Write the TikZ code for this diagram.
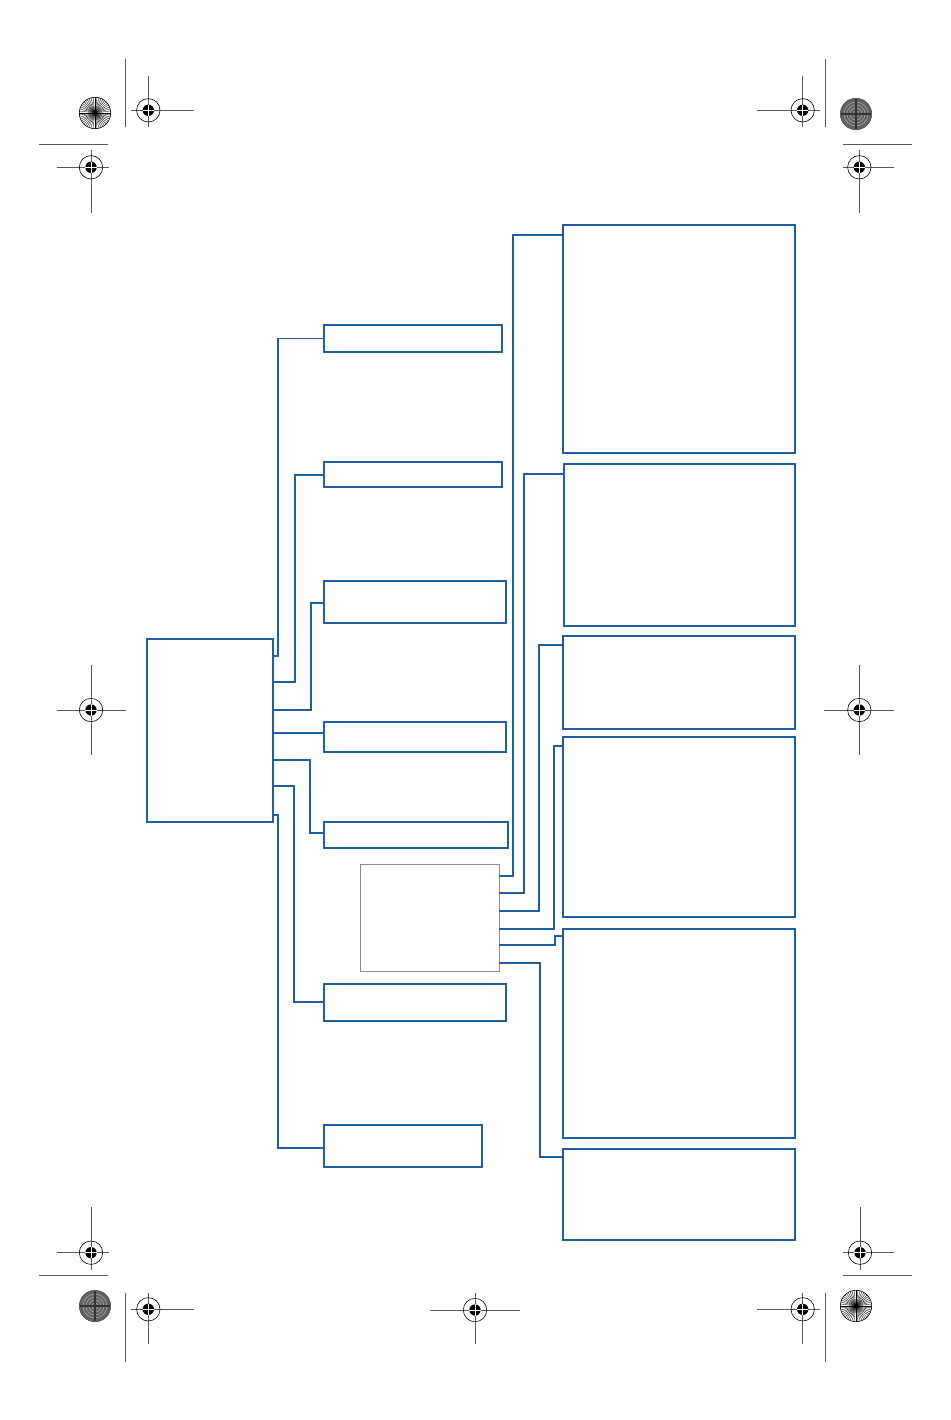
\documentclass[tikz,border=0pt]{standalone}
\usetikzlibrary{calc}
\definecolor{boxblue}{RGB}{31,94,166}
\definecolor{markgray}{RGB}{90,90,90}
\tikzset{
  box/.style={draw=boxblue,line width=1.8pt,inner sep=0pt,outer sep=0pt,rectangle},
  thinbox/.style={draw=black!45,line width=0.9pt,inner sep=0pt,outer sep=0pt,rectangle},
  conn/.style={draw=boxblue,line width=1.8pt},
  markline/.style={draw=markgray,line width=0.7pt},
  target/.pic={
    \draw[black,line width=0.6pt] (0,0) circle (11.7);
    \fill[black] (0,0) circle (5.7);
    \draw[white,line width=0.7pt] (-5.7,0) -- (5.7,0) (0,-5.7) -- (0,5.7);
  },
  starburst/.pic={
    \foreach \a in {0,7.5,...,352.5}{\draw[black,line width=0.35pt] (0,0) -- (\a:15.7);}
    \draw[black,line width=0.6pt] (0,0) circle (15.7);
  },
  darkdisc/.pic={
    \fill[black!62] (0,0) circle (15.7);
    \foreach \r in {3,6,9,12}{\draw[black!35,line width=0.6pt] (0,0) circle (\r);}
    \draw[black!80,line width=1.2pt] (-15,0) -- (15,0) (0,-15) -- (0,15);
    \draw[black!70,line width=0.6pt] (0,0) circle (15.7);
  }
}
\begin{document}
\begin{tikzpicture}[x=1pt,y=-1pt]
\useasboundingbox (0,0) rectangle (950,1420);
\fill[white] (0,0) rectangle (950,1420);

% ---------- boxes ----------
\node[box,minimum width=126,minimum height=183] (L) at (210,730.5) {};
\node[box,minimum width=178,minimum height=27] (B1) at (413,338.5) {};
\node[box,minimum width=178,minimum height=25] (B2) at (413,474.5) {};
\node[box,minimum width=182,minimum height=42] (B3) at (415,602) {};
\node[box,minimum width=182,minimum height=30] (B4) at (415,737) {};
\node[box,minimum width=184,minimum height=26] (B5) at (416,835) {};
\node[box,minimum width=182,minimum height=37] (B6) at (415,1002.5) {};
\node[box,minimum width=158,minimum height=42] (B7) at (403,1146) {};
\node[thinbox,minimum width=139,minimum height=107] (C) at (429.5,917.5) {};
\node[box,minimum width=232,minimum height=228] (R1) at (679,339) {};
\node[box,minimum width=231,minimum height=162] (R2) at (679.5,545) {};
\node[box,minimum width=232,minimum height=93] (R3) at (679,682.5) {};
\node[box,minimum width=232,minimum height=180] (R4) at (679,827) {};
\node[box,minimum width=232,minimum height=209] (R5) at (679,1033.5) {};
\node[box,minimum width=232,minimum height=91] (R6) at (679,1194.5) {};

% ---------- connectors from left box ----------
\draw[conn] (L.east |- 0,656) -- (278,656) |- (B1.west);
\draw[conn] (L.east |- 0,682) -- (295,682) |- (B2.west |- 0,475);
\draw[conn] (L.east |- 0,710) -- (311,710) |- (B3.west |- 0,603);
\draw[conn] (L.east |- 0,733) -- (B4.west |- 0,733);
\draw[conn] (L.east |- 0,760) -- (310,760) |- (B5.west |- 0,833);
\draw[conn] (L.east |- 0,786) -- (294,786) |- (B6.west |- 0,1002);
\draw[conn] (L.east |- 0,815) -- (278,815) |- (B7.west |- 0,1148);

% ---------- connectors from centre box ----------
\draw[conn] (C.east |- 0,876) -- (513,876) |- (R1.west |- 0,235);
\draw[conn] (C.east |- 0,893) -- (524,893) |- (R2.west |- 0,474);
\draw[conn] (C.east |- 0,911) -- (539,911) |- (R3.west |- 0,645);
\draw[conn] (C.east |- 0,929) -- (554,929) |- (R4.west |- 0,746);
\draw[conn] (C.east |- 0,945) -- (555,945) |- (R5.west |- 0,936);
\draw[conn] (C.east |- 0,963) -- (540,963) |- (R6.west |- 0,1157);

% ---------- registration marks: top left ----------
\pic at (95,113) {starburst};
\draw[markline] (125.7,59) -- (125.7,127.3);
\draw[markline] (131,110.3) -- (194,110.3) (148.3,76) -- (148.3,127.3);
\pic at (148.3,110.3) {target};
\draw[markline] (39.3,144.3) -- (108.3,144.3);
\draw[markline] (56.7,167.3) -- (108.7,167.3) (91,150) -- (91,213.3);
\pic at (91,167.3) {target};

% ---------- top right ----------
\draw[markline] (756.7,110.3) -- (820,110.3) (802.7,76) -- (802.7,127.3);
\pic at (802.7,110.3) {target};
\draw[markline] (825.7,59) -- (825.7,127.3);
\pic at (856,114) {darkdisc};
\draw[markline] (842.7,144.3) -- (911.7,144.3);
\draw[markline] (842.7,167.3) -- (894.3,167.3) (859.3,150) -- (859.3,213.3);
\pic at (859.3,167.3) {target};

% ---------- middle ----------
\draw[markline] (56.7,710) -- (126,710) (91,665) -- (91,755);
\pic at (91,710) {target};
\draw[markline] (824,710) -- (894,710) (859.3,665) -- (859.3,755);
\pic at (859.3,710) {target};

% ---------- bottom left ----------
\draw[markline] (56.7,1252.7) -- (108.7,1252.7) (91,1206.7) -- (91,1270);
\pic at (91,1252.7) {target};
\draw[markline] (39.3,1275.7) -- (108.3,1275.7);
\pic at (95,1306) {darkdisc};
\draw[markline] (125.7,1293) -- (125.7,1361.7);
\draw[markline] (131,1309.3) -- (194,1309.3) (148.3,1292.7) -- (148.3,1344.3);
\pic at (148.3,1309.3) {target};

% ---------- bottom middle ----------
\draw[markline] (430,1310) -- (520,1310) (475,1292.7) -- (475,1344.3);
\pic at (475,1310) {target};

% ---------- bottom right ----------
\draw[markline] (842.7,1252.7) -- (894.3,1252.7) (860,1206.7) -- (860,1270);
\pic at (860,1252.7) {target};
\draw[markline] (842.7,1275.7) -- (911.7,1275.7);
\pic at (856,1306) {starburst};
\draw[markline] (825.7,1293) -- (825.7,1361.7);
\draw[markline] (756.7,1309.3) -- (820,1309.3) (802.7,1292.7) -- (802.7,1344.3);
\pic at (802.7,1309.3) {target};
\end{tikzpicture}
\end{document}
